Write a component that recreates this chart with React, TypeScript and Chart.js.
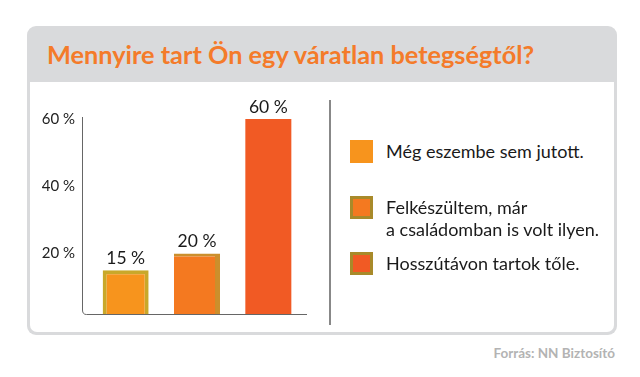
import React, { useEffect, useRef } from "react";
import { Chart, registerables } from "chart.js";

Chart.register(...registerables);

const title = "Mennyire tart Ön egy váratlan betegségtől?";
const categories = ["Még eszembe sem jutott.", "Felkészültem, már a családomban is volt ilyen.", "Hosszútávon tartok tőle."];
const legendLines = [["Még eszembe sem jutott."], ["Felkészültem, már", "a családomban is volt ilyen."], ["Hosszútávon tartok tőle."]];
const values = [15, 20, 60];
const tickValues = [20, 40, 60];
const barColors = ["#f7941d", "#f47920", "#f15a24"];
const barBorderColors = ["#c9a82a", "#cc8f2c", "#f15a24"];
const source = "Forrás: NN Biztosító";

const FONT = "Lato, 'Open Sans', sans-serif";
const AXIS_GAP = 8;

export default function App() {
  const ref = useRef<HTMLCanvasElement | null>(null);
  useEffect(() => {
    if (!ref.current) return;
    const axisPlugin = {
      id: "axisLines",
      afterDatasetsDraw(chart: any) {
        const { ctx, chartArea } = chart;
        const l = chartArea.left - AXIS_GAP, b = chartArea.bottom;
        ctx.save();
        ctx.strokeStyle = "#666";
        ctx.lineWidth = 1;
        ctx.beginPath();
        ctx.moveTo(l + 0.5, chartArea.top - 2);
        ctx.lineTo(l + 0.5, b - 4);
        ctx.quadraticCurveTo(l + 0.5, b + 0.5, l + 4.5, b + 0.5);
        ctx.lineTo(chartArea.right + 3, b + 0.5);
        ctx.stroke();
        // data labels
        const meta = chart.getDatasetMeta(0);
        ctx.fillStyle = "#1a1a1a";
        ctx.font = "17.5px " + FONT;
        ctx.textAlign = "center";
        ctx.textBaseline = "bottom";
        meta.data.forEach((bar: any, i: number) => {
          ctx.fillText(values[i] + " %", bar.x, bar.y - 3);
        });
        ctx.restore();
      },
    };
    const chart = new Chart(ref.current, {
      type: "bar",
      data: {
        labels: categories,
        datasets: [
          {
            data: values,
            backgroundColor: barColors,
            borderColor: barBorderColors,
            borderWidth: [
              { top: 4, left: 4, right: 4, bottom: 0 },
              { top: 3, left: 0, right: 5, bottom: 0 },
              0,
            ] as any,
            borderSkipped: "bottom",
            categoryPercentage: 1,
            barPercentage: 0.645,
          },
        ],
      },
      options: {
        animation: false,
        responsive: false,
        maintainAspectRatio: false,
        layout: { padding: { top: 34, right: 26, bottom: 16, left: 0 } },
        plugins: { legend: { display: false }, tooltip: { enabled: false } },
        scales: {
          x: { display: false },
          y: {
            min: 2,
            max: 60,
            grid: { display: false, drawTicks: false },
            border: { display: false },
            afterBuildTicks: (s: any) => {
              s.ticks = tickValues.map((v) => ({ value: v }));
            },
            afterFit: (s: any) => {
              s.width = 52 + AXIS_GAP;
              s.paddingTop = 0;
              s.paddingBottom = 0;
            },
            ticks: {
              padding: 7 + AXIS_GAP,
              color: "#222",
              font: { family: FONT, size: 15 },
              callback: (v: any) => v + " %",
            },
          },
        },
      },
      plugins: [axisPlugin],
    });
    return () => chart.destroy();
  }, []);

  return (
    <div style={{ position: "fixed", left: 0, top: 0, width: 640, height: 377, background: "#fff", fontFamily: FONT, overflow: "hidden" }}>
      <div
        style={{
          position: "absolute",
          left: 27,
          top: 26,
          width: 590,
          height: 309,
          boxSizing: "border-box",
          background: "#d9dadc",
          borderRadius: 9,
        }}
      />
      <div style={{ position: "absolute", left: 30, top: 82, width: 584, height: 250, background: "#fff", borderRadius: "0 0 7px 7px" }} />
      <div style={{ position: "absolute", left: 47, top: 36, fontSize: 25.3, fontWeight: 700, color: "#f47b2a", whiteSpace: "nowrap", lineHeight: "36px" }}>
        {title}
      </div>
      <div style={{ position: "absolute", left: 30, top: 85, width: 300, height: 245 }}>
        <canvas ref={ref} width={300} height={245} style={{ width: 300, height: 245, display: "block" }} />
      </div>
      <div style={{ position: "absolute", left: 329, top: 100, width: 2, height: 225, background: "#888" }} />
      {legendLines.map((lines, i) => {
        const tops = [140, 196, 252];
        return (
          <div key={i}>
            <div
              style={{
                position: "absolute",
                left: 350,
                top: tops[i],
                width: 23,
                height: 23,
                boxSizing: "border-box",
                background: barColors[i],
                border: i === 0 ? "none" : "3px solid #a88a2a",
              }}
            />
            <div style={{ position: "absolute", left: 386, top: tops[i], fontSize: 18, lineHeight: "22px", color: "#1a1a1a", whiteSpace: "nowrap" }}>
              {lines.map((t, j) => (
                <div key={j}>{t}</div>
              ))}
            </div>
          </div>
        );
      })}
      <div style={{ position: "absolute", right: 25, top: 345, fontSize: 13.5, fontWeight: 700, color: "#b3b3b3", whiteSpace: "nowrap" }}>{source}</div>
    </div>
  );
}
